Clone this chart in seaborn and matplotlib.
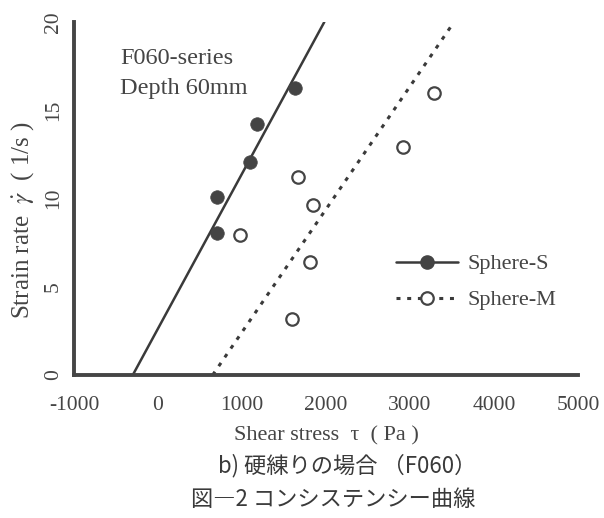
import matplotlib
matplotlib.use("Agg")
import matplotlib.pyplot as plt
import seaborn as sns
import pandas as pd
from matplotlib.lines import Line2D

# ---- data ----
s_stress = [702, 702, 1095, 1179, 1631]
s_rate = [8.05, 10.08, 12.07, 14.22, 16.26]
m_stress = [976, 1595, 1810, 1845, 1667, 2917, 3286]
m_rate = [7.93, 3.17, 6.4, 9.63, 11.2, 12.9, 16.0]
fit_s_x = [-300, 1980]
fit_s_y = [0, 20]
fit_m_x = [651, 3524]
fit_m_y = [0, 20]
x_ticks = [-1000, 0, 1000, 2000, 3000, 4000, 5000]
y_ticks = [0, 5, 10, 15, 20]

sns.set_theme(style="white")
plt.rcParams["font.family"] = ["Liberation Serif", "DejaVu Serif"]
plt.rcParams["mathtext.fontset"] = "stix"

ink = "#454545"
fig = plt.figure(figsize=(6.04, 5.18), dpi=100)
ax = fig.add_axes([74/604, 1-375/518, 504/604, 353/518])

df_s = pd.DataFrame({"x": s_stress, "y": s_rate})
df_m = pd.DataFrame({"x": m_stress, "y": m_rate})
fs = pd.DataFrame({"x": fit_s_x, "y": fit_s_y})
fm = pd.DataFrame({"x": fit_m_x, "y": fit_m_y})

sns.lineplot(data=fs, x="x", y="y", ax=ax, color="#3a3a3a", lw=1.8, sort=False)
sns.lineplot(data=fm, x="x", y="y", ax=ax, color="#3a3a3a", lw=2.2, sort=False,
             linestyle=(0, (1.3, 2.2)))
sns.scatterplot(data=df_s, x="x", y="y", ax=ax, s=95, color="#444444",
                edgecolor="#444444", linewidth=0.5, zorder=3)
sns.scatterplot(data=df_m, x="x", y="y", ax=ax, s=80, facecolor="white",
                edgecolor="#444444", linewidth=1.6, zorder=3)

ax.set_xlim(-1000, 5000)
ax.set_ylim(0, 20)
ax.set_xticks(x_ticks)
ax.set_yticks(y_ticks)
ax.set_xticklabels([str(v) for v in x_ticks], fontsize=15.5, color=ink)
ax.set_yticklabels([str(v) for v in y_ticks], fontsize=15.5, color=ink,
                   rotation=90, va="center")
ax.tick_params(axis="both", direction="in", length=6, width=2.2, color=ink)
ax.tick_params(axis="x", pad=15)
ax.tick_params(axis="y", pad=8)
for side in ["top", "right"]:
    ax.spines[side].set_visible(False)
for side in ["left", "bottom"]:
    ax.spines[side].set_linewidth(2.8)
    ax.spines[side].set_color(ink)

ax.set_xlabel(r"Shear stress  τ  ( Pa )", fontsize=16, color=ink)
ax.xaxis.set_label_coords(0.5, -0.145)
ax.set_ylabel(r"Strain rate  $\dot{\gamma}$  ( 1/s )", fontsize=18, color=ink)
ax.yaxis.set_label_coords(-0.075, 0.439)

ax.text(0.091, 0.898, "F060-series", transform=ax.transAxes, fontsize=17.5,
        color=ink, va="center", ha="left")
ax.text(0.091, 0.813, "Depth 60mm", transform=ax.transAxes, fontsize=17.5,
        color=ink, va="center", ha="left")

handles = [
    Line2D([], [], color="#3a3a3a", lw=1.8, marker="o", markersize=9.5,
           markerfacecolor="#444444", markeredgecolor="#444444"),
    Line2D([], [], color="#3a3a3a", lw=2.2, linestyle=(0, (1.3, 2.2)), marker="o",
           markersize=9, markerfacecolor="white", markeredgecolor="#444444",
           markeredgewidth=1.6),
]
leg = ax.legend(handles, ["Sphere-S", "Sphere-M"], loc="center left",
                bbox_to_anchor=(0.599, 0.263), frameon=False, fontsize=16,
                handlelength=2.8, handletextpad=0.4, labelspacing=0.7,
                labelcolor=ink)

cjk = ["Noto Sans CJK JP", "DejaVu Sans"]
fig.text(0.574, 1-466/518, "b) 硬練りの場合 （F060）", ha="center", va="center",
         fontsize=16, color="#3a3a3a", family=cjk)
fig.text(0.552, 1-499/518, "図―2 コンシステンシー曲線", ha="center", va="center",
         fontsize=16, color="#3a3a3a", family=cjk)

fig.savefig("out.png", dpi=100)
